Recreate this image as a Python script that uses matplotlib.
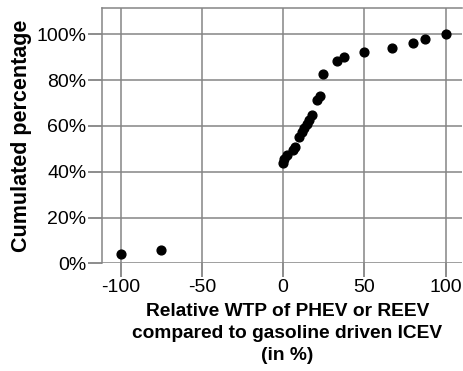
import numpy as np
import matplotlib.pyplot as plt
from matplotlib.ticker import PercentFormatter

plt.rcParams['font.family'] = ['Liberation Sans', 'DejaVu Sans']
plt.rcParams['axes.unicode_minus'] = False

# relative WTP (%) and cumulated percentage
wtp = [-100, -75, -0.3, 0.5, 2.5, 6.2, 7.3, 9.9, 11.4, 12.8, 14.5, 16.1, 17.5,
       21, 22.6, 24.7, 33.3, 37.6, 50, 67, 80, 87.4, 100]
cum = [4.1, 5.8, 43.7, 45.4, 47.3, 49.5, 50.9, 55.3, 57.5, 58.9, 60.8, 62.6, 64.8,
       71.3, 73, 82.7, 88.3, 90.2, 92.4, 94.1, 96.3, 98.1, 100]

xticks = [-100, -50, 0, 50, 100]
yticks = [0, 20, 40, 60, 80, 100]

fig = plt.figure(figsize=(4.63, 3.71), dpi=100)
ax = fig.add_axes([0.220, 0.290, 0.778, 0.688])

ax.scatter(wtp, cum, s=40, color='black', zorder=3, clip_on=False)

ax.set_xlim(-111.5, 110)
ax.set_ylim(0, 111.4)
ax.set_xticks(xticks)
ax.set_yticks(yticks)
ax.yaxis.set_major_formatter(PercentFormatter(decimals=0))
ax.grid(True, color='#858585', linewidth=1.1)
ax.set_axisbelow(True)

for side in ['top', 'left']:
    ax.spines[side].set_color('#858585')
    ax.spines[side].set_linewidth(1.1)
ax.spines['right'].set_visible(False)
ax.spines['bottom'].set_visible(False)
ax.tick_params(length=10, width=1.1, color='#6e6e6e', labelsize=14, pad=1)

ax.set_xlabel('Relative WTP of PHEV or REEV\ncompared to gasoline driven ICEV\n(in %)',
              fontsize=13.8, fontweight='bold', linespacing=1.4)
ax.xaxis.set_label_coords(0.515, -0.155, transform=ax.transAxes)
ax.xaxis.label.set_verticalalignment('top')
ax.set_ylabel('Cumulated percentage', fontsize=15.5, fontweight='bold', labelpad=3)

fig.savefig('out.png', dpi=100)
